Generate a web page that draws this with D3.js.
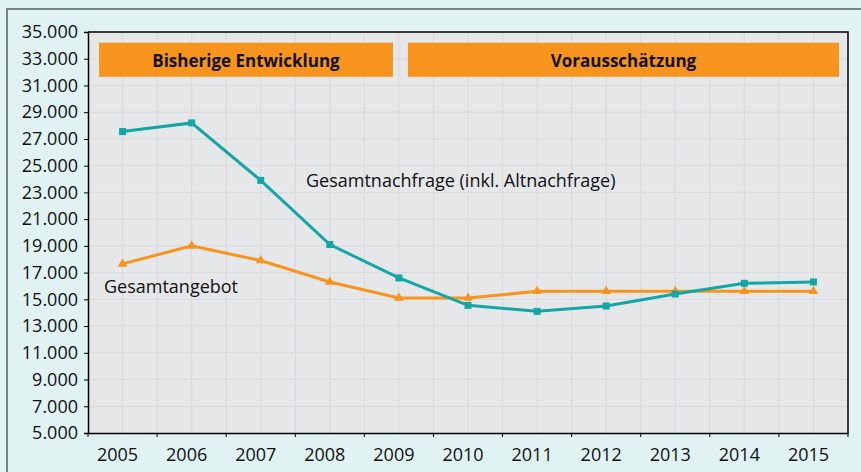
<!DOCTYPE html>
<html>
<head>
<meta charset="utf-8">
<script src="https://cdn.jsdelivr.net/npm/d3@7"></script>
<style>
  html, body { margin: 0; padding: 0; background: #e0f2f2; }
  svg { display: block; font-family: "Open Sans", sans-serif; }
</style>
</head>
<body>
<div id="chart"></div>
<script>
const years = ['2005', '2006', '2007', '2008', '2009', '2010', '2011', '2012', '2013', '2014', '2015']
const nachfrage = [27550, 28200, 23900, 19100, 16600, 14550, 14100, 14500, 15400, 16200, 16300]
const angebot = [17650, 19000, 17900, 16300, 15100, 15100, 15600, 15600, 15600, 15600, 15600]
const yTicks = [5000, 7000, 9000, 11000, 13000, 15000, 17000, 19000, 21000, 23000, 25000, 27000, 29000, 31000, 33000, 35000]
const phases = [
  { label: 'Bisherige Entwicklung', from: '2005', to: '2009' },
  { label: 'Vorausschätzung', from: '2009', to: '2015' }
]

const WIDTH = 861
const HEIGHT = 472
const margin = { top: 32, right: 13, bottom: 39, left: 88 }

const teal = '#14a6a6'
const orange = '#f7941d'

const svg = d3.select('#chart')
  .append('svg')
    .attr('width', WIDTH)
    .attr('height', HEIGHT)

// outer frame (only top and left edges are visible)
svg.append('rect')
  .attr('width', WIDTH)
  .attr('height', HEIGHT)
  .attr('fill', '#e0f2f2')
svg.append('path')
  .attr('d', `M7,${HEIGHT}V9H${WIDTH}`)
  .attr('fill', 'none')
  .attr('stroke', '#7c8282')
  .attr('stroke-width', 2)

const x = d3.scaleBand()
  .domain(years)
  .range([margin.left, WIDTH - margin.right])

const y = d3.scaleLinear()
  .domain([5000, 35000])
  .range([HEIGHT - margin.bottom, margin.top])

const bw = x.bandwidth()
const cx = (d) => x(d) + bw / 2

svg.append('rect')
  .attr('x', margin.left)
  .attr('y', margin.top)
  .attr('width', WIDTH - margin.left - margin.right)
  .attr('height', HEIGHT - margin.top - margin.bottom)
  .attr('fill', '#e6e7e9')

// grid
const grid = svg.append('g')
  .attr('stroke', '#d8d9db')
  .attr('stroke-width', 1)

const vGrid = years.flatMap((d) => [x(d), cx(d)]).slice(1)
grid.selectAll('line.v')
  .data(vGrid)
  .join('line')
    .attr('class', 'v')
    .attr('x1', (d) => d)
    .attr('x2', (d) => d)
    .attr('y1', margin.top)
    .attr('y2', HEIGHT - margin.bottom)

grid.selectAll('line.h')
  .data(yTicks.slice(1, -1))
  .join('line')
    .attr('class', 'h')
    .attr('x1', margin.left)
    .attr('x2', WIDTH - margin.right)
    .attr('y1', (d) => y(d))
    .attr('y2', (d) => y(d))

// phase banners
const banners = svg.append('g')
phases.forEach((p, i) => {
  const x0 = i === 0 ? x(p.from) + 11 : cx(p.from) + 9
  const x1 = i === 0 ? cx(p.to) - 6 : x(p.to) + bw - 9
  banners.append('rect')
    .attr('x', x0)
    .attr('y', y(34200))
    .attr('width', x1 - x0)
    .attr('height', y(31650) - y(34200))
    .attr('fill', orange)
  banners.append('text')
    .attr('x', (x0 + x1) / 2)
    .attr('y', y(32900))
    .attr('text-anchor', 'middle')
    .attr('dominant-baseline', 'central')
    .attr('font-size', 17)
    .attr('font-weight', 'bold')
    .attr('fill', '#111')
    .text(p.label)
})

// axes
const yAxis = svg.append('g')
  .attr('transform', `translate(${margin.left},0)`)
  .call(d3.axisLeft(y)
    .tickValues(yTicks)
    .tickSize(4)
    .tickPadding(6)
    .tickFormat((d) => d3.format(',')(d).replace(',', '.')))
yAxis.selectAll('text')
  .attr('font-size', 18)
  .attr('fill', '#111')
  .attr('font-family', '"Open Sans", sans-serif')
yAxis.select('.domain').attr('stroke', '#000').attr('stroke-width', 1.5)
yAxis.selectAll('.tick line').attr('stroke', '#000')

const xAxis = svg.append('g')
  .attr('transform', `translate(0,${HEIGHT - margin.bottom})`)
  .call(d3.axisBottom(x).tickSize(0).tickPadding(15))
xAxis.selectAll('.tick text')
  .attr('font-size', 18)
  .attr('fill', '#111')
  .attr('dx', -5)
  .attr('font-family', '"Open Sans", sans-serif')
xAxis.select('.domain').attr('stroke', '#000').attr('stroke-width', 1.5)

svg.append('g')
  .attr('stroke', '#000')
  .selectAll('line')
  .data(years.map((d) => x(d)).concat([x(years[years.length - 1]) + bw]))
  .join('line')
    .attr('x1', (d) => d)
    .attr('x2', (d) => d)
    .attr('y1', HEIGHT - margin.bottom)
    .attr('y2', HEIGHT - margin.bottom + 4)

// top and right frame of plot
svg.append('path')
  .attr('d', `M${margin.left},${margin.top}H${WIDTH - margin.right}V${HEIGHT - margin.bottom}`)
  .attr('fill', 'none')
  .attr('stroke', '#000')
  .attr('stroke-width', 1.5)

// lines
const line = d3.line()
  .x((d, i) => cx(years[i]))
  .y((d) => y(d))

svg.append('path')
  .datum(angebot)
  .attr('d', line)
  .attr('fill', 'none')
  .attr('stroke', orange)
  .attr('stroke-width', 3)

svg.append('g')
  .selectAll('path')
  .data(angebot)
  .join('path')
    .attr('d', d3.symbol(d3.symbolTriangle, 40))
    .attr('transform', (d, i) => `translate(${cx(years[i])},${y(d)})`)
    .attr('fill', orange)

svg.append('path')
  .datum(nachfrage)
  .attr('d', line)
  .attr('fill', 'none')
  .attr('stroke', teal)
  .attr('stroke-width', 3)

svg.append('g')
  .selectAll('rect')
  .data(nachfrage)
  .join('rect')
    .attr('x', (d, i) => cx(years[i]) - 3.5)
    .attr('y', (d) => y(d) - 3.5)
    .attr('width', 7)
    .attr('height', 7)
    .attr('fill', teal)

// series labels
svg.append('text')
  .attr('x', 306)
  .attr('y', y(23400))
  .attr('font-size', 18)
  .attr('fill', '#111')
  .text('Gesamtnachfrage (inkl. Altnachfrage)')

svg.append('text')
  .attr('x', 104)
  .attr('y', y(15500))
  .attr('font-size', 18)
  .attr('fill', '#111')
  .text('Gesamtangebot')
</script>
</body>
</html>
